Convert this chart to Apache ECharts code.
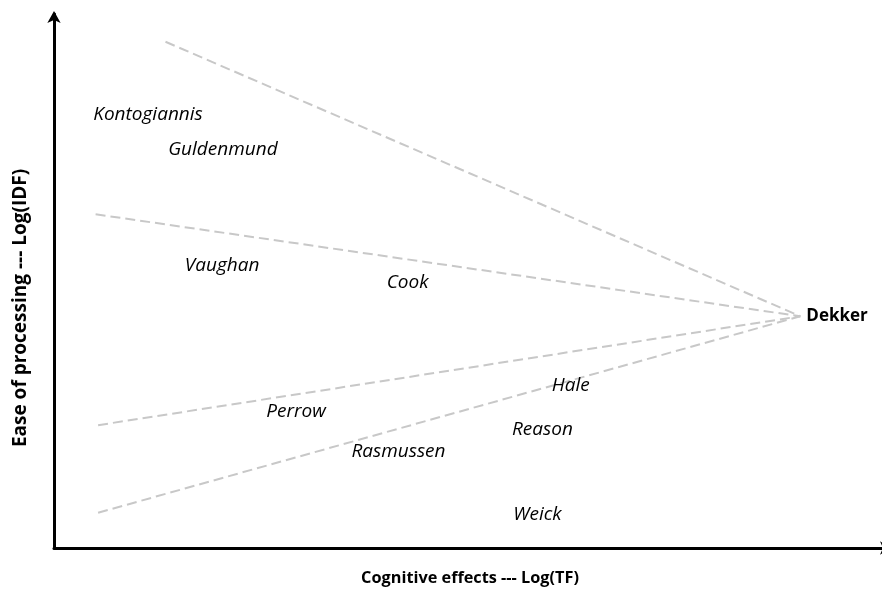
<!DOCTYPE html>
<html>
<head>
<meta charset="utf-8">
<script src="https://cdn.jsdelivr.net/npm/echarts@6/dist/echarts.min.js"></script>
<style>html,body{margin:0;padding:0;background:#fff;}#chart{width:882px;height:589px;}</style>
</head>
<body>
<div id="chart"></div>
<script>
// Author labels placed on the TF (x) / IDF (y) plane, abstract 0-100 units
const authorNames = ['Kontogiannis', 'Guldenmund', 'Vaughan', 'Cook', 'Hale', 'Perrow', 'Reason', 'Rasmussen', 'Weick'];
const authorX = [11.3, 20.3, 20.2, 42.5, 62.1, 29.1, 58.7, 41.4, 58.1];
const authorY = [81.5, 74.9, 53.2, 50.0, 30.7, 26.0, 22.5, 18.4, 6.6];

// Apex point (Dekker)
const apexName = 'Dekker';
const apexX = 89.7;
const apexY = 43.4;

// Far ends of the dashed rays converging on the apex
const rayEndX = [13.4, 5.0, 5.3, 5.3];
const rayEndY = [94.8, 62.5, 23.0, 6.6];

const xTitle = 'Cognitive effects --- Log(TF)';
const yTitle = 'Ease of processing --- Log(IDF)';

const chart = echarts.init(document.getElementById('chart'), null, {renderer: 'canvas'});

const raySeries = rayEndX.map((x, i) => ({
  type: 'line',
  data: [[x, rayEndY[i]], [apexX, apexY]],
  symbol: 'none',
  silent: true,
  lineStyle: {color: '#c8c8c8', width: 2, type: [10, 5]},
  z: 1
}));

const option = {
  animation: false,
  backgroundColor: '#ffffff',
  grid: {left: 54, right: -4, top: 14, bottom: 41, containLabel: false, outerBoundsMode: 'none'},
  xAxis: {
    type: 'value', min: 0, max: 100,
    name: xTitle, nameLocation: 'middle', nameGap: 22,
    nameTextStyle: {fontFamily: 'Open Sans', fontWeight: 'bold', fontSize: 16.3, color: '#000'},
    axisLine: {lineStyle: {color: '#000', width: 3}, symbol: ['none', 'arrow'], symbolSize: [10, 12], symbolOffset: [0, 6]},
    axisTick: {show: false}, axisLabel: {show: false}, splitLine: {show: false}
  },
  yAxis: {
    type: 'value', min: 0, max: 100,
    name: yTitle, nameLocation: 'middle', nameGap: 24,
    nameTextStyle: {fontFamily: 'Open Sans', fontWeight: 'bold', fontSize: 19, color: '#000', padding: [0, 54, 0, 0]},
    axisLine: {lineStyle: {color: '#000', width: 3}, symbol: ['none', 'arrow'], symbolSize: [10, 12], symbolOffset: [0, 3]},
    axisTick: {show: false}, axisLabel: {show: false}, splitLine: {show: false}
  },
  series: raySeries.concat([
    {
      type: 'scatter',
      symbolSize: 0,
      silent: true,
      itemStyle: {opacity: 1},
      data: authorNames.map((n, i) => ({name: n, value: [authorX[i], authorY[i]]})),
      label: {
        show: true, position: 'inside', formatter: '{b}', offset: [0, 2],
        fontFamily: 'Open Sans', fontStyle: 'italic', fontWeight: 'normal', fontSize: 19, color: '#000'
      },
      z: 3
    },
    {
      type: 'scatter',
      symbolSize: 0,
      silent: true,
      itemStyle: {opacity: 1},
      data: [{name: apexName, value: [apexX, apexY]}],
      label: {
        show: true, position: 'right', distance: 6, formatter: '{b}',
        fontFamily: 'Open Sans', fontWeight: 'bold', fontSize: 17, color: '#000'
      },
      z: 3
    }
  ])
};
chart.setOption(option);
</script>
</body>
</html>
